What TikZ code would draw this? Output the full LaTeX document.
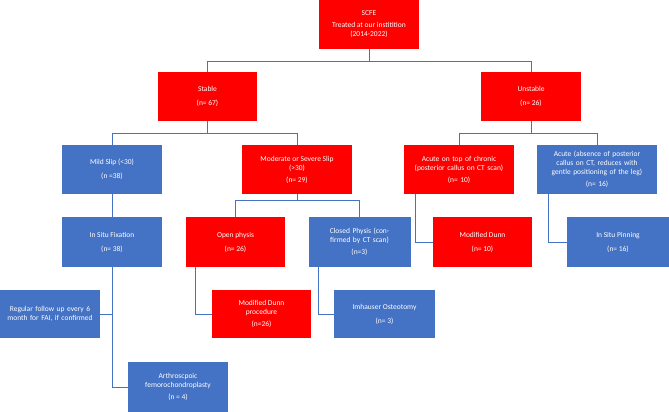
\documentclass[tikz,border=0pt]{standalone}
\usepackage{fontspec}
\setmainfont{Carlito}
\definecolor{boxred}{HTML}{FF0000}
\definecolor{boxblue}{HTML}{4472C4}
\tikzset{
  box/.style={draw=none, text=white, align=center, inner sep=1pt,
    font=\fontsize{7.5}{9}\selectfont},
  redbox/.style={box, fill=boxred},
  bluebox/.style={box, fill=boxblue},
  link/.style={draw=boxblue, line width=0.8pt}
}
\begin{document}
\begin{tikzpicture}[x=1pt,y=-1pt]
\useasboundingbox (0,0) rectangle (669,412);
% top levels
\node[redbox, minimum width=100, minimum height=49] (scfe) at (369,24.5)
      {SCFE\\[3pt] Treated at our institition\\ (2014-2022)};
\node[redbox, minimum width=99, minimum height=49] (stable) at (207.5,96.5)
      {Stable\\[5pt] (n= 67)};
\node[redbox, minimum width=100, minimum height=49] (unstable) at (531,96.5)
      {Unstable\\[5pt] (n= 26)};
% second level
\node[bluebox, minimum width=100, minimum height=49] (mild) at (112,169.5)
      {Mild Slip (<30)\\[5pt] (n =38)};
\node[redbox, minimum width=110, minimum height=49] (moderate) at (297,169.5)
      {Moderate or Severe Slip\\ (>30)\\[3pt] (n= 29)};
\node[redbox, minimum width=110, minimum height=49, text width=106] (acutechronic) at (459,169.5)
      {Acute on top of chronic (posterior callus on CT scan)\\[3pt] (n= 10)};
\node[bluebox, minimum width=120, minimum height=49, text width=118] (acute) at (597,169.5)
      {Acute (absence of posterior callus on CT, reduces with gentle positioning of the leg)\\[3pt] (n= 16)};
% third level
\node[bluebox, minimum width=100, minimum height=50] (fixation) at (112,242)
      {In Situ Fixation\\[5pt] (n= 38)};
\node[redbox, minimum width=99, minimum height=50] (open) at (235.5,242)
      {Open physis\\[5pt] (n= 26)};
\node[bluebox, minimum width=101, minimum height=50, text width=100] (closed) at (359.5,242)
      {Closed Physis (confirmed by CT scan)\\[3pt] (n=3)};
\node[redbox, minimum width=99, minimum height=50] (dunn) at (482.5,242)
      {Modified Dunn\\[5pt] (n= 10)};
\node[bluebox, minimum width=102, minimum height=50] (pinning) at (618,242)
      {In Situ Pinning\\[5pt] (n= 16)};
% fourth level
\node[bluebox, minimum width=100, minimum height=48, text width=98] (followup) at (50,314)
      {Regular follow up every 6 month for FAI, if confirmed};
\node[redbox, minimum width=99, minimum height=48] (dunnproc) at (261.5,314)
      {Modified Dunn\\ procedure\\[3pt] (n=26)};
\node[bluebox, minimum width=101, minimum height=48] (imhauser) at (384.5,314)
      {Imhauser Osteotomy\\[5pt] (n= 3)};
\node[bluebox, minimum width=100, minimum height=50] (arthro) at (178,387)
      {Arthroscpoic\\ femorochondroplasty\\[3pt] (n = 4)};
% connectors
\draw[link] (scfe.south) -- ++(0,12) coordinate (jscfe);
\draw[link] (stable.north) |- (jscfe) -| (unstable.north);
\draw[link] (stable.south) -- ++(0,12) coordinate (jstable);
\draw[link] (mild.north) |- (jstable) -| (moderate.north);
\draw[link] (unstable.south) -- ++(0,12) coordinate (junstable);
\draw[link] (acutechronic.north) |- (junstable) -| (acute.north);
\draw[link] (mild.south) -- (fixation.north);
\draw[link] (moderate.south) -- ++(0,6) coordinate (jmoderate);
\draw[link] (open.north) |- (jmoderate) -| (closed.north);
\draw[link] ([xshift=-44pt]acutechronic.south) |- (dunn.west);
\draw[link] ([xshift=-49pt]acute.south) |- (pinning.west);
\draw[link] ([xshift=-40.5pt]open.south) |- (dunnproc.west);
\draw[link] ([xshift=-41.5pt]closed.south) |- (imhauser.west);
\draw[link] (fixation.south) |- (arthro.west);
\draw[link] (followup.east) -- (followup.east -| fixation.south);
\end{tikzpicture}
\end{document}
